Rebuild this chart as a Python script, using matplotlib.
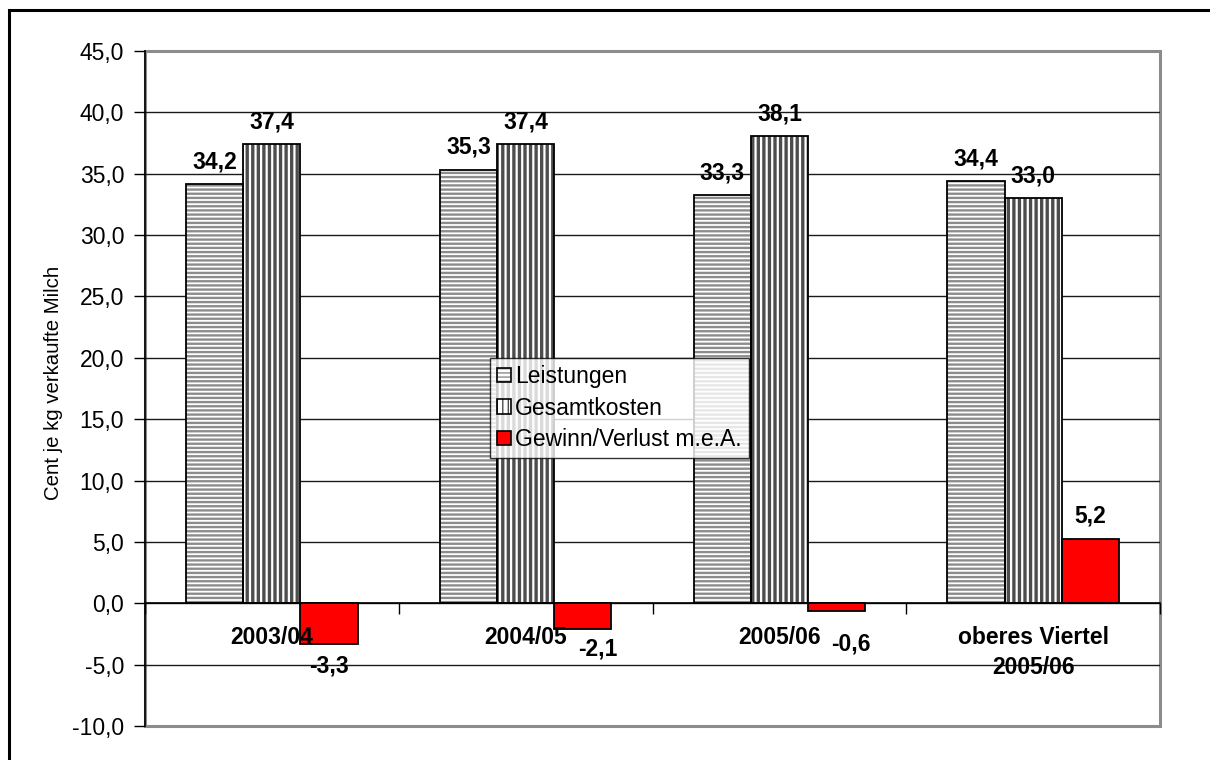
import matplotlib
matplotlib.use("Agg")
import matplotlib.pyplot as plt
from matplotlib.patches import Rectangle, Patch
from matplotlib.legend_handler import HandlerTuple
from matplotlib.ticker import FuncFormatter, FixedLocator
import numpy as np

# Data: cents per kg of sold milk
categories = ["2003/04", "2004/05", "2005/06", "oberes Viertel\n2005/06"]
series_names = ["Leistungen", "Gesamtkosten", "Gewinn/Verlust m.e.A."]
leistungen = [34.2, 35.3, 33.3, 34.4]
gesamtkosten = [37.4, 37.4, 38.1, 33.0]
gewinn = [-3.3, -2.1, -0.6, 5.2]
y_ticks = [-10, -5, 0, 5, 10, 15, 20, 25, 30, 35, 40, 45]

plt.rcParams["font.family"] = ["Liberation Sans", "DejaVu Sans"]

FS = 16.5

def de_fmt(v):
    return f"{v:.1f}".replace(".", ",")

W, H = 1210, 760
fig = plt.figure(figsize=(W / 100, H / 100), dpi=100)
ax = fig.add_axes([145 / W, (H - 726) / H, 1015 / W, 675 / H])

n = len(categories)
x = np.arange(n)
bw = 0.225
offsets = [-bw, 0.0, bw]
styles = [
    dict(face="white", hatch="----", hcolor="#8c8c8c", hlw=1.7),
    dict(face="white", hatch="|||", hcolor="#4d4d4d", hlw=2.4),
    dict(face="#ff0000", hatch=None, hcolor="#ff0000", hlw=1.0),
]
all_series = [leistungen, gesamtkosten, gewinn]

for vals, off, st in zip(all_series, offsets, styles):
    with plt.rc_context({"hatch.linewidth": st["hlw"]}):
        # filled/hatched body
        ax.bar(x + off, vals, width=bw, color=st["face"], hatch=st["hatch"],
               edgecolor=st["hcolor"], linewidth=0, zorder=3)
    # black outline
    ax.bar(x + off, vals, width=bw, fill=False, edgecolor="black",
           linewidth=1.3, zorder=4)

# value labels (pixel offsets from the bar end)
label_shift = [
    [(0, 22), (0, 23), (0, 22), (0, 22)],
    [(0, 22), (0, 22), (0, 22), (0, 22)],
    [(0, -22), (15, -20), (14, -33), (0, 23)],
]
for vals, off, shifts in zip(all_series, offsets, label_shift):
    for xi, v, (dx, dy) in zip(x, vals, shifts):
        ax.annotate(de_fmt(v), (xi + off, v), xytext=(dx, dy),
                    textcoords="offset pixels", ha="center", va="center",
                    fontsize=FS, fontweight="bold", zorder=6)

# category labels below the zero line
for xi, cat in zip(x, categories):
    ax.annotate(cat, (xi, 0), xytext=(0, -23), textcoords="offset pixels",
                ha="center", va="top", fontsize=FS, fontweight="bold",
                linespacing=1.38, zorder=6)

ax.set_xlim(-0.5, n - 0.5)
ax.set_ylim(-10, 45)
ax.yaxis.set_major_locator(FixedLocator(y_ticks))
ax.yaxis.set_major_formatter(FuncFormatter(lambda v, p: de_fmt(v)))
ax.tick_params(axis="y", direction="out", length=8, width=1, pad=7,
               labelsize=FS, colors="black")

ax.set_xticks(np.arange(-0.5, n, 1.0))
ax.set_xticklabels([])
ax.tick_params(axis="x", direction="out", length=8, width=1, color="black")

# horizontal grid
for t in y_ticks:
    if -10 < t < 45:
        ax.axhline(t, color="#1a1a1a", linewidth=1.0, zorder=1)

# spines: x axis sits at zero, plot frame in grey
ax.spines["bottom"].set_position(("data", 0))
ax.spines["bottom"].set_color("black")
ax.spines["bottom"].set_linewidth(1.2)
ax.spines["bottom"].set_zorder(5)
ax.spines["left"].set_color("black")
ax.spines["left"].set_linewidth(1.2)
for s in ["top", "right"]:
    ax.spines[s].set_visible(False)
ax.add_patch(Rectangle((0, 0), 1, 1, transform=ax.transAxes, fill=False,
                       edgecolor="#8c8c8c", linewidth=2.2, zorder=0.5,
                       clip_on=False))

ax.set_ylabel("Cent je kg verkaufte Milch", fontsize=14.7)
ax.yaxis.set_label_coords(-82 / 1015, 0.508)

# legend: hatched square with a black outline on top
handles = []
for st in styles:
    with plt.rc_context({"hatch.linewidth": st["hlw"]}):
        body = Patch(facecolor=st["face"], hatch=st["hatch"],
                     edgecolor=st["hcolor"], linewidth=0)
    outline = Patch(fill=False, edgecolor="black", linewidth=1.2)
    handles.append((body, outline))
leg = ax.legend(handles, series_names, loc="upper left",
                handler_map={tuple: HandlerTuple(ndivide=1)},
                bbox_to_anchor=((490 - 145) / 1015, (726 - 358) / 675),
                borderaxespad=0, fontsize=FS, frameon=True, fancybox=False,
                edgecolor="black", handlelength=0.6, handleheight=0.6,
                handletextpad=0.2, labelspacing=0.38, borderpad=0.3)
leg.get_frame().set_linewidth(1.0)
leg.set_zorder(7)

# outer frame of the figure
fig.patches.append(Rectangle((9 / W, -0.2), 1.3, 0.2 + (H - 10) / H,
                             transform=fig.transFigure, fill=False,
                             edgecolor="black", linewidth=2.2))

fig.savefig("out.png", dpi=100)
